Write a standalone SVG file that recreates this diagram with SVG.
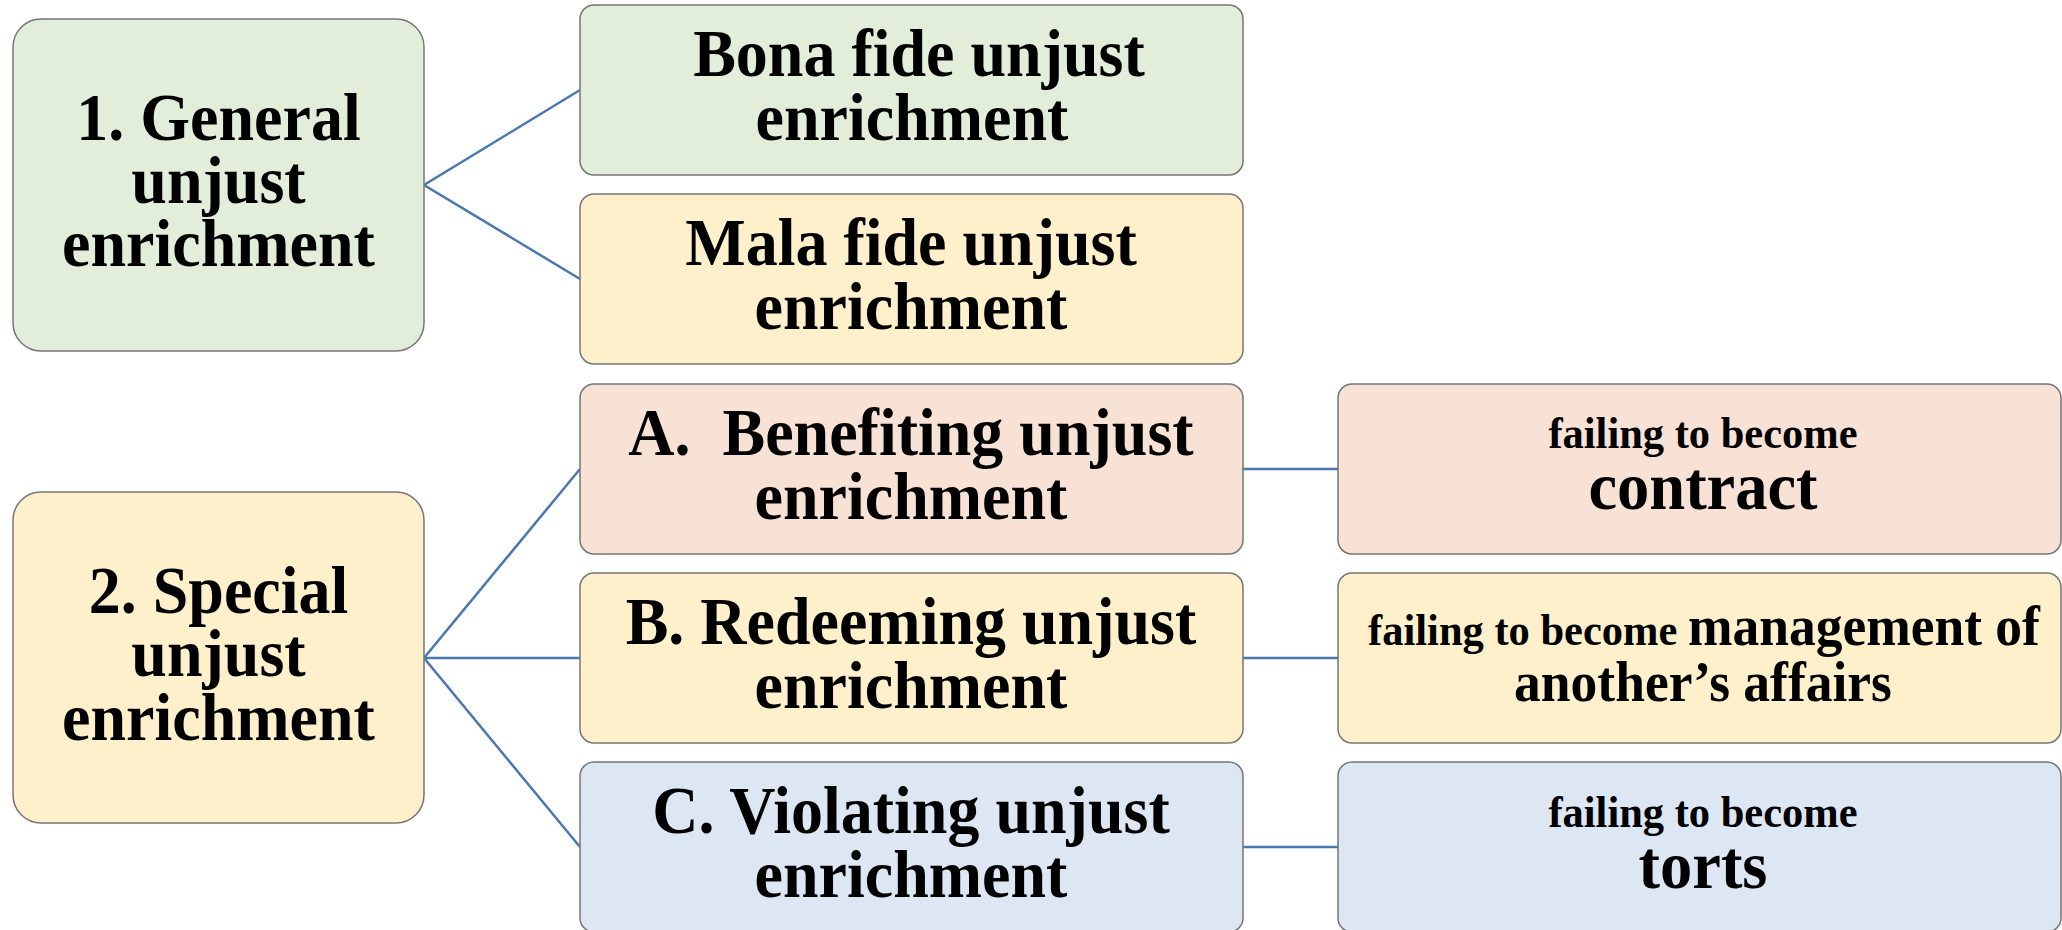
<svg xmlns="http://www.w3.org/2000/svg" width="2062" height="930" viewBox="0 0 2062 930">
  <style>
    .box { stroke: #767676; stroke-width: 1.5; }
    .green { fill: #e2eed9; }
    .yellow { fill: #fef0ca; }
    .pink { fill: #f8e2d6; }
    .blue { fill: #dde7f3; }
    text {
      font-family: "Liberation Serif", "Times New Roman", serif; font-weight: 700; fill: #000; text-anchor: middle;
      /* slightly tall letterforms, stretched about the baseline */
      transform-box: fill-box; transform-origin: 50% 80.5%; transform: scaleY(1.06);
    }
    .main { font-size: 64px; }
    .small { font-size: 42.5px; }
    .big { font-size: 64.5px; }
    .mid { font-size: 53.5px; }
    .link { stroke: #4a78b0; stroke-width: 2.5; fill: none; }
  </style>

  <!-- connectors -->
  <g id="connectors">
    <polyline class="link" points="580,90 424,185 580,279"/>
    <polyline class="link" points="580,469 424,658 580,847"/>
    <line class="link" x1="424" y1="658" x2="580" y2="658"/>
    <line class="link" x1="1243" y1="469" x2="1338" y2="469"/>
    <line class="link" x1="1243" y1="658" x2="1338" y2="658"/>
    <line class="link" x1="1243" y1="847" x2="1338" y2="847"/>
  </g>

  <!-- category 1 -->
  <g id="general">
    <rect class="box green" x="13" y="19" width="411" height="332" rx="28"/>
    <text class="main" x="218.5" y="140">1. General</text>
    <text class="main" x="218.5" y="203">unjust</text>
    <text class="main" x="218.5" y="266">enrichment</text>
  </g>

  <g id="bona-fide">
    <rect class="box green" x="580" y="5" width="663" height="170" rx="14"/>
    <text class="main" x="919" y="76">Bona fide unjust</text>
    <text class="main" x="912" y="140">enrichment</text>
  </g>

  <g id="mala-fide">
    <rect class="box yellow" x="580" y="194" width="663" height="170" rx="14"/>
    <text class="main" x="911" y="265">Mala fide unjust</text>
    <text class="main" x="911" y="329">enrichment</text>
  </g>

  <!-- category 2 -->
  <g id="special">
    <rect class="box yellow" x="13" y="492" width="411" height="331" rx="28"/>
    <text class="main" x="218.5" y="613">2. Special</text>
    <text class="main" x="218.5" y="676">unjust</text>
    <text class="main" x="218.5" y="740">enrichment</text>
  </g>

  <g id="benefiting">
    <rect class="box pink" x="580" y="384" width="663" height="170" rx="14"/>
    <text class="main" x="911" y="455">A.&#160; Benefiting unjust</text>
    <text class="main" x="911" y="519">enrichment</text>
  </g>

  <g id="redeeming">
    <rect class="box yellow" x="580" y="573" width="663" height="170" rx="14"/>
    <text class="main" x="911" y="644">B. Redeeming unjust</text>
    <text class="main" x="911" y="708">enrichment</text>
  </g>

  <g id="violating">
    <rect class="box blue" x="580" y="762" width="663" height="170" rx="14"/>
    <text class="main" x="911" y="833">C. Violating unjust</text>
    <text class="main" x="911" y="897">enrichment</text>
  </g>

  <!-- outcomes -->
  <g id="contract">
    <rect class="box pink" x="1338" y="384" width="723" height="170" rx="14"/>
    <text class="small" x="1703" y="448">failing to become</text>
    <text class="big" x="1703" y="509">contract</text>
  </g>

  <g id="management">
    <rect class="box yellow" x="1338" y="573" width="723" height="170" rx="14"/>
    <text x="1704" y="645"><tspan class="small">failing to become </tspan><tspan class="mid">management of</tspan></text>
    <text class="mid" x="1703" y="701">another’s affairs</text>
  </g>

  <g id="torts">
    <rect class="box blue" x="1338" y="762" width="723" height="170" rx="14"/>
    <text class="small" x="1703" y="827">failing to become</text>
    <text class="big" x="1703" y="888">torts</text>
  </g>
</svg>
